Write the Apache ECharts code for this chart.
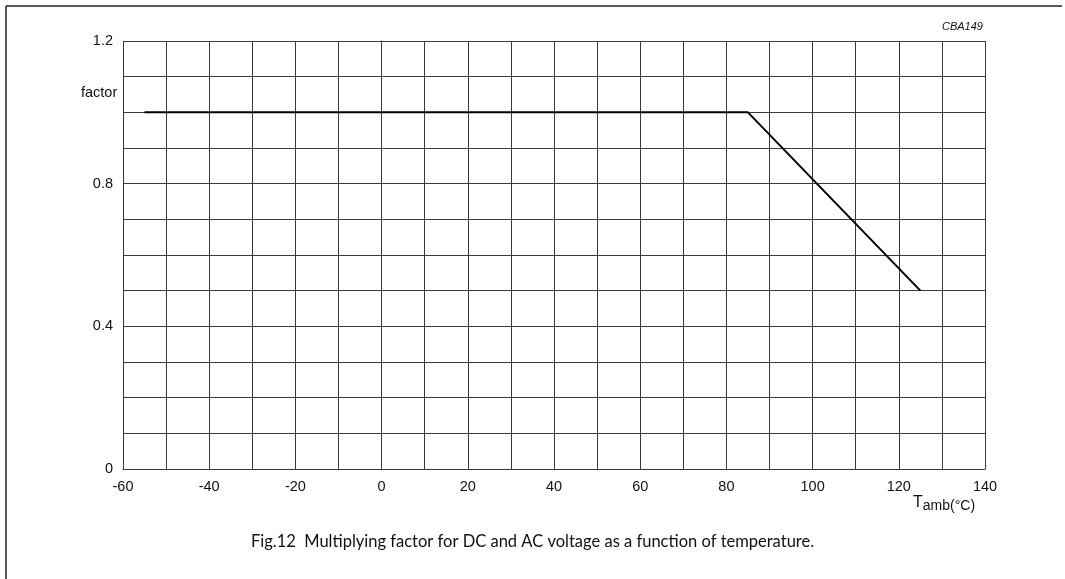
<!DOCTYPE html>
<html>
<head>
<meta charset="utf-8">
<script src="https://cdn.jsdelivr.net/npm/echarts@6/dist/echarts.min.js"></script>
<style>
  html, body { margin: 0; padding: 0; background: #fff; }
  #chart { width: 1065px; height: 579px; }
</style>
</head>
<body>
<div id="chart"></div>
<script>
// Derating curve: multiplying factor vs ambient temperature
const temperatures = [-55, 85, 125];
const factors = [1.0, 1.0, 0.5];
const xTickLabels = [-60, -40, -20, 0, 20, 40, 60, 80, 100, 120, 140];
const yTickLabels = [0, 0.4, 0.8, 1.2];

const chart = echarts.init(document.getElementById('chart'), null, { renderer: 'canvas' });
const gridColor = '#3a3a3a';
const textFont = 'Liberation Sans, Arial, sans-serif';

chart.setOption({
  backgroundColor: '#fff',
  animation: false,
  grid: { left: 123, top: 41, width: 862, height: 428, containLabel: false },
  xAxis: {
    type: 'value',
    min: -60, max: 140, interval: 10,
    axisLine: { show: true, lineStyle: { color: gridColor, width: 1 } },
    axisTick: { show: false },
    splitLine: { show: true, lineStyle: { color: gridColor, width: 1 } },
    axisLabel: {
      margin: 10,
      color: '#111', fontSize: 14.5, fontFamily: textFont,
      formatter: v => (xTickLabels.includes(v) ? String(v) : '')
    }
  },
  yAxis: {
    type: 'value',
    min: 0, max: 1.2, interval: 0.1,
    axisLine: { show: true, lineStyle: { color: gridColor, width: 1 } },
    axisTick: { show: false },
    splitLine: { show: true, lineStyle: { color: gridColor, width: 1 } },
    axisLabel: {
      margin: 10,
      color: '#111', fontSize: 14.5, fontFamily: textFont,
      formatter: v => {
        const r = Math.round(v * 10) / 10;
        return yTickLabels.includes(r) ? (r === 0 ? '0' : r.toFixed(1)) : '';
      }
    }
  },
  series: [{
    type: 'line',
    data: temperatures.map((t, i) => [t, factors[i]]),
    symbol: 'none',
    lineStyle: { color: '#000', width: 2 }
  }],
  graphic: [
    // page frame
    { type: 'line', shape: { x1: 6, y1: 6, x2: 1062, y2: 6 }, style: { stroke: '#222', lineWidth: 1.5 } },
    { type: 'line', shape: { x1: 6, y1: 6, x2: 6, y2: 579 }, style: { stroke: '#222', lineWidth: 1.5 } },
    { type: 'text', left: 942, top: 21, style: { text: 'CBA149', fontSize: 11, fontStyle: 'italic', fontFamily: textFont, fill: '#111' } },
    { type: 'text', left: 81, top: 85, style: { text: 'factor', fontSize: 14.5, fontFamily: textFont, fill: '#111' } },
    {
      type: 'text', left: 913, top: 495,
      style: {
        text: '{t|T}{s|amb(°C)}',
        fill: '#111',
        rich: {
          t: { fontSize: 16, fontFamily: textFont },
          s: { fontSize: 14, fontFamily: textFont, padding: [6, 0, 0, 0] }
        }
      }
    },
    {
      type: 'text', left: 'center', top: 533,
      style: {
        text: 'Fig.12  Multiplying factor for DC and AC voltage as a function of temperature.',
        fontSize: 16.5, fontFamily: 'Lato, Open Sans, sans-serif', fill: '#111'
      }
    }
  ]
});
</script>
</body>
</html>
